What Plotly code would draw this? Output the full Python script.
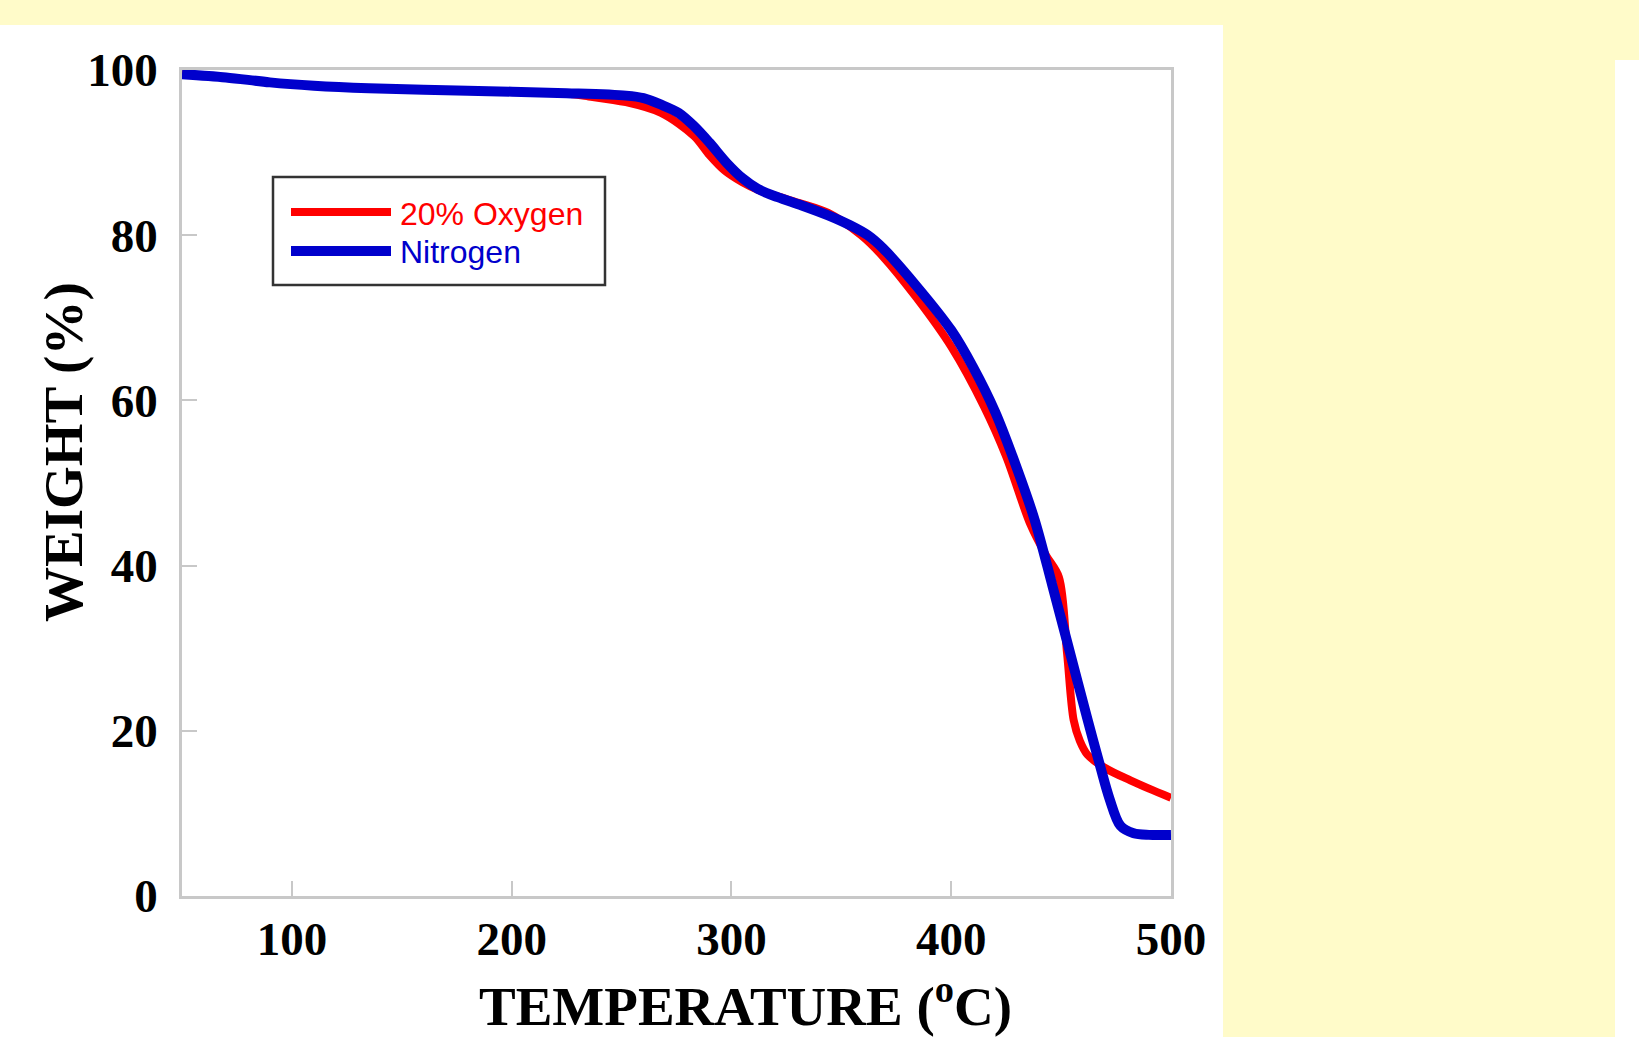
import plotly.graph_objects as go

# ---------------- data ----------------
temp_n2 = [50, 70, 90, 110, 135, 180, 225, 252, 260, 268, 276, 283, 290, 298,
           305, 312, 321, 332, 344, 354, 362, 369, 384, 400, 410, 420, 430,
           438, 446, 454, 462, 468, 472, 477, 483, 490, 500]
weight_n2 = [99.5, 99.1, 98.5, 98.1, 97.8, 97.5, 97.2, 96.9, 96.6, 95.8, 94.8,
             93.2, 91.2, 88.7, 86.9, 85.6, 84.6, 83.6, 82.4, 81.2, 80.0, 78.4,
             73.9, 68.5, 64.0, 58.6, 51.7, 45.5, 37.6, 29.5, 21.4, 15.5, 11.8,
             8.5, 7.6, 7.4, 7.4]

temp_o2 = [50, 70, 90, 110, 135, 180, 222, 235, 252, 268, 283, 290, 297, 305,
           312, 321, 332, 344, 359, 369, 384, 400, 415, 425, 436, 443, 449,
           452.7, 455.7, 458.5, 462, 470, 481.5, 490, 500]
weight_o2 = [99.5, 99.1, 98.5, 98.1, 97.8, 97.5, 97.2, 96.8, 96.1, 94.8, 92.0,
             89.7, 87.8, 86.4, 85.5, 84.7, 83.8, 82.7, 80.0, 77.4, 72.5, 66.5,
             59.2, 53.2, 45.0, 41.3, 38.6, 29.4, 21.3, 18.8, 17.1, 15.5, 14.0,
             13.0, 11.9]

series_names = ["20% Oxygen", "Nitrogen"]
series_colors = ["#FF0000", "#0000CC"]
x_ticks = [100, 200, 300, 400, 500]
y_ticks = [0, 20, 40, 60, 80, 100]
x_title = "TEMPERATURE (<sup>o</sup>C)"
y_title = "WEIGHT (%)"

# ---------------- layout geometry ----------------
W, H = 1639, 1037
L, R, T, B = 182, W - 1171, 70, H - 896
PW, PH = W - L - R, H - T - B


def px(xp):
    return (xp - L) / PW


def py(yp):
    return 1 - (yp - T) / PH


YELLOW = "#FFFBC9"
AXIS_GRAY = "#C8C8C8"
serif = "Liberation Serif"
sans = "Liberation Sans"

fig = go.Figure()
fig.add_trace(go.Scatter(x=temp_o2, y=weight_o2, mode="lines", name=series_names[0],
                         line=dict(color=series_colors[0], width=8, shape="spline",
                                   smoothing=0.9),
                         showlegend=False))
fig.add_trace(go.Scatter(x=temp_n2, y=weight_n2, mode="lines", name=series_names[1],
                         line=dict(color=series_colors[1], width=10, shape="spline",
                                   smoothing=0.9),
                         showlegend=False))

axis_common = dict(showgrid=False, zeroline=False, showline=True, linecolor=AXIS_GRAY,
                   linewidth=2.5, mirror=True, ticks="inside", tickcolor=AXIS_GRAY,
                   tickwidth=1.5, ticklen=15,
                   tickfont=dict(family=serif, size=47, color="black", weight="bold"))

fig.update_xaxes(range=[50, 500], tickvals=x_ticks, ticklabelstandoff=0, **axis_common)
fig.update_yaxes(range=[0, 100], tickvals=y_ticks, ticklabelstandoff=12, **axis_common)

shapes = [
    # white panel behind the chart
    dict(type="rect", xref="paper", yref="paper", x0=px(0), x1=px(1223), y0=py(H), y1=py(25),
         fillcolor="white", line=dict(width=0), layer="below"),
    # white strip at the right edge
    dict(type="rect", xref="paper", yref="paper", x0=px(1615), x1=px(W), y0=py(H), y1=py(60),
         fillcolor="white", line=dict(width=0), layer="below"),
    # legend box
    dict(type="rect", xref="paper", yref="paper", x0=px(273), x1=px(605), y0=py(285), y1=py(177),
         fillcolor="white", line=dict(color="#333333", width=2.5), layer="above"),
    dict(type="line", xref="paper", yref="paper", x0=px(291), x1=px(391), y0=py(212), y1=py(212),
         line=dict(color=series_colors[0], width=8), layer="above"),
    dict(type="line", xref="paper", yref="paper", x0=px(291), x1=px(391), y0=py(251), y1=py(251),
         line=dict(color=series_colors[1], width=10), layer="above"),
]

annotations = [
    dict(text=series_names[0], xref="paper", yref="paper", x=px(398), y=py(214),
         xanchor="left", yanchor="middle", showarrow=False,
         font=dict(family=sans, size=32, color=series_colors[0])),
    dict(text=series_names[1], xref="paper", yref="paper", x=px(398), y=py(252),
         xanchor="left", yanchor="middle", showarrow=False,
         font=dict(family=sans, size=32, color=series_colors[1])),
    dict(text=x_title, xref="paper", yref="paper", x=px(745), y=py(1002),
         xanchor="center", yanchor="middle", showarrow=False,
         font=dict(family=serif, size=55, color="black", weight="bold")),
    dict(text=y_title, xref="paper", yref="paper", x=px(64), y=py(452),
         xanchor="center", yanchor="middle", showarrow=False, textangle=-90,
         font=dict(family=serif, size=55, color="black", weight="bold")),
]

fig.update_layout(width=W, height=H, autosize=False,
                  margin=dict(l=L, r=R, t=T, b=B, pad=0),
                  paper_bgcolor=YELLOW, plot_bgcolor="white",
                  shapes=shapes, annotations=annotations, showlegend=False)

fig.write_html("out.html", config={"displayModeBar": False},
               post_script="document.body.style.margin='0';document.body.style.overflow='hidden';")
